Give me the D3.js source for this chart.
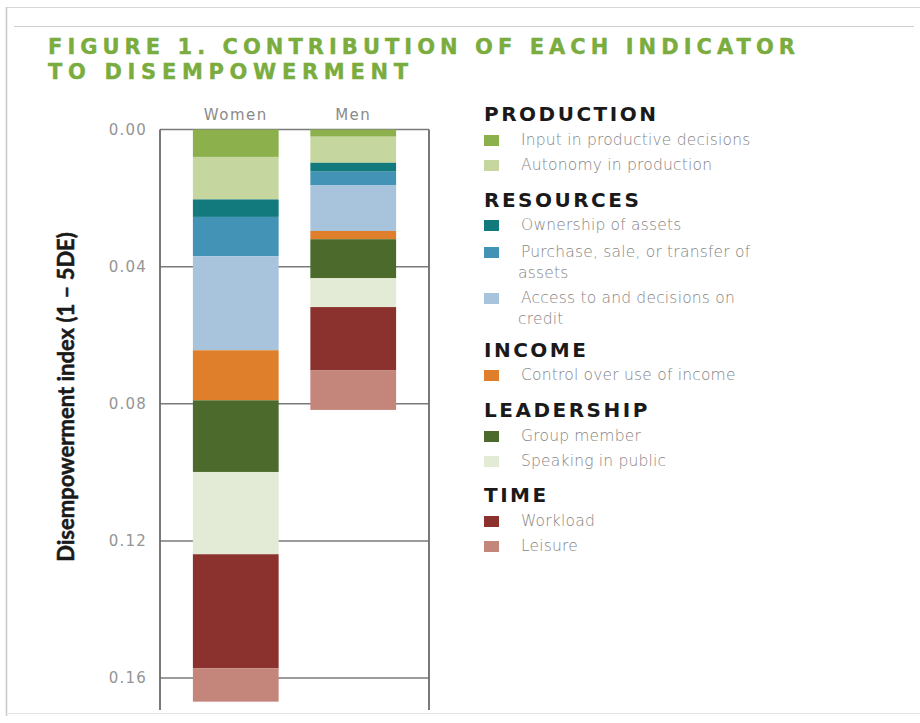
<!DOCTYPE html>
<html>
<head>
<meta charset="utf-8">
<script src="https://cdn.jsdelivr.net/npm/d3@7"></script>
<style>
  body { margin: 0; background: #fff; }
  svg { display: block; }
</style>
</head>
<body>
<svg id="chart" width="920" height="723"></svg>
<script>
// data
var groups = ['Women', 'Men']
var indicators = ['input', 'autonomy', 'ownership', 'purchase', 'access', 'income', 'group', 'speaking', 'workload', 'leisure']
var womenValues = [0.0080, 0.0124, 0.0051, 0.0115, 0.0274, 0.0146, 0.0209, 0.0240, 0.0333, 0.0097]
var menValues = [0.0021, 0.0076, 0.0026, 0.0039, 0.0134, 0.0024, 0.0114, 0.0084, 0.0185, 0.0115]
var yTicks = [0, 0.04, 0.08, 0.12, 0.16]
var colors = ['#8bb04c', '#c5d69e', '#127a7c', '#4393b6', '#a7c4dc', '#df7f2b', '#4c6a2b', '#e3ead6', '#8b322e', '#c4867b']

var legendSections = [
  { title: 'PRODUCTION', items: [[0, ['Input in productive decisions']], [1, ['Autonomy in production']]] },
  { title: 'RESOURCES', items: [[2, ['Ownership of assets']], [3, ['Purchase, sale, or transfer of', 'assets']], [4, ['Access to and decisions on', 'credit']]] },
  { title: 'INCOME', items: [[5, ['Control over use of income']]] },
  { title: 'LEADERSHIP', items: [[6, ['Group member']], [7, ['Speaking in public']]] },
  { title: 'TIME', items: [[8, ['Workload']], [9, ['Leisure']]] }
]

var svg = d3.select('#chart')

// frame lines of the scanned page
svg.append('line').attr('x1', 6).attr('x2', 920).attr('y1', 7.5).attr('y2', 7.5)
  .attr('stroke', '#d8d8d8').attr('stroke-width', 1)
svg.append('line').attr('x1', 6.5).attr('x2', 6.5).attr('y1', 7).attr('y2', 716)
  .attr('stroke', '#c8c8c8').attr('stroke-width', 1.5)
svg.append('line').attr('x1', 14).attr('x2', 914).attr('y1', 26.5).attr('y2', 26.5)
  .attr('stroke', '#d0d0d0').attr('stroke-width', 1.2)
svg.append('line').attr('x1', 6).attr('x2', 920).attr('y1', 713.5).attr('y2', 713.5)
  .attr('stroke', '#e4e4e4').attr('stroke-width', 1)

// title
var titleLines = ['FIGURE 1. CONTRIBUTION OF EACH INDICATOR', 'TO DISEMPOWERMENT']
var titleLens = [747, 360]
svg.selectAll('.title')
  .data(titleLines)
  .enter().append('text')
  .attr('class', 'title')
  .attr('x', 48)
  .attr('y', (d, i) => 54 + i * 25)
  .attr('textLength', (d, i) => titleLens[i])
  .attr('lengthAdjust', 'spacing')
  .attr('fill', '#7aac3e')
  .attr('stroke', '#7aac3e')
  .attr('stroke-width', 0.4)
  .style('font-family', 'DejaVu Sans, sans-serif')
  .style('font-weight', 'bold')
  .style('font-size', '21px')
  .text(d => d)

// scales
var y = d3.scaleLinear().domain([0, 0.16]).range([129.5, 678])
var x = d3.scaleBand().domain(groups).range([160, 429]).paddingInner(0.27).paddingOuter(0.28)
var plotBottom = 710

var g = svg.append('g')

// gridlines
g.selectAll('.grid')
  .data(yTicks)
  .enter().append('line')
  .attr('x1', 160).attr('x2', 429)
  .attr('y1', d => y(d)).attr('y2', d => y(d))
  .attr('stroke', '#7a7a7a').attr('stroke-width', 1.5)

// side frame
g.selectAll('.side')
  .data([160, 429])
  .enter().append('line')
  .attr('x1', d => d).attr('x2', d => d)
  .attr('y1', y(0)).attr('y2', plotBottom)
  .attr('stroke', '#6a6a6a').attr('stroke-width', 1.8)

// stacked bars
var table = groups.map((name, i) => {
  var row = { name: name }
  var vals = i === 0 ? womenValues : menValues
  indicators.forEach((k, j) => { row[k] = vals[j] })
  return row
})
var series = d3.stack().keys(indicators)(table)

g.selectAll('.layer')
  .data(series)
  .enter().append('g')
  .attr('fill', (d, i) => colors[i])
  .selectAll('rect')
  .data(d => d)
  .enter().append('rect')
  .attr('x', d => x(d.data.name))
  .attr('width', x.bandwidth())
  .attr('y', d => y(d[0]))
  .attr('height', d => y(d[1]) - y(d[0]))

// y tick labels
g.selectAll('.tick-label')
  .data(yTicks)
  .enter().append('text')
  .attr('x', 147)
  .attr('y', d => y(d))
  .attr('dy', '0.35em')
  .attr('text-anchor', 'end')
  .attr('fill', '#959595')
  .style('font-family', 'DejaVu Sans, sans-serif')
  .style('font-size', '15px')
  .style('letter-spacing', '1.2px')
  .text(d3.format('.2f'))

// group labels
g.selectAll('.group-label')
  .data(groups)
  .enter().append('text')
  .attr('x', d => x(d) + x.bandwidth() / 2)
  .attr('y', 120)
  .attr('text-anchor', 'middle')
  .attr('fill', '#8a8a8a')
  .style('font-family', 'DejaVu Sans, sans-serif')
  .style('font-size', '15px')
  .style('letter-spacing', '1.5px')
  .text(d => d)

// y axis title
svg.append('text')
  .attr('transform', 'translate(74,397) rotate(-90)')
  .attr('text-anchor', 'middle')
  .attr('fill', '#1a1a1a')
  .attr('stroke', '#1a1a1a')
  .attr('stroke-width', 0.5)
  .style('font-family', 'Lato, sans-serif')
  .style('font-weight', 'bold')
  .style('font-size', '22px')
  .text('Disempowerment index (1 – 5DE)')

// legend
var headerY = [121, 207, 357, 417, 502]
var itemY = [[140, 165], [225, 252, 298], [375], [436, 461], [521, 546]]
var legend = svg.append('g')
legendSections.forEach((sec, si) => {
  legend.append('text')
    .attr('x', 484)
    .attr('y', headerY[si])
    .attr('fill', '#1a1a1a')
    .style('font-family', 'DejaVu Sans, sans-serif')
    .style('font-weight', 'bold')
    .style('font-size', '20px')
    .style('letter-spacing', '2.5px')
    .text(sec.title)
  sec.items.forEach((it, ii) => {
    var cy = itemY[si][ii]
    legend.append('rect')
      .attr('x', 484).attr('y', cy - 5)
      .attr('width', 15).attr('height', 11)
      .attr('fill', colors[it[0]])
    it[1].forEach((line, li) => {
      legend.append('text')
        .attr('x', li === 0 ? 521 : 518)
        .attr('y', cy + li * 21)
        .attr('dy', '0.35em')
        .attr('fill', '#858585')
        .style('font-family', 'DejaVu Sans, sans-serif')
        .style('font-weight', 300)
        .style('font-size', '15.5px')
        .style('letter-spacing', '0.2px')
        .text(line)
    })
  })
})
</script>
</body>
</html>
